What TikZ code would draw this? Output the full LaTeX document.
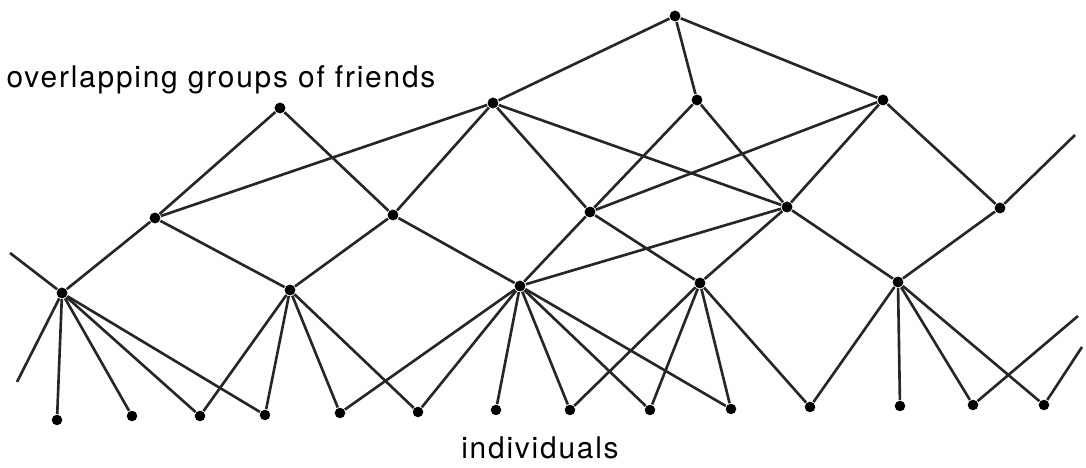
\documentclass[tikz,border=0pt]{standalone}
\usepackage{fontspec}
\setmainfont{TeX Gyre Heros}[LetterSpace=6]
\usetikzlibrary{positioning}
\tikzset{
  grp/.style={circle, fill=black, inner sep=0pt, minimum size=3.1pt},
  indiv/.style={grp, minimum size=3pt},
  tie/.style={line width=0.75pt, black!85},
  lbl/.style={font=\fontsize{8.5}{10}\selectfont, inner sep=0pt},
}

\begin{document}
\begin{tikzpicture}[x=0.1mm, y=-0.1mm]
    \useasboundingbox (0,0) rectangle (1086,468);
    % groups of friends
    \node[grp] (top) at (675,16) {};
    \node[grp] (a) at (280,108) {};
    \node[grp] (b) at (493,103) {};
    \node[grp] (c) at (697,100) {};
    \node[grp] (d) at (883,100) {};
    \node[grp] (e) at (155,218) {};
    \node[grp] (f) at (393,215) {};
    \node[grp] (g) at (590,212) {};
    \node[grp] (h) at (787,207) {};
    \node[grp] (i) at (1000,208) {};
    \node[grp] (j) at (62,293) {};
    \node[grp] (k) at (290,290) {};
    \node[grp] (l) at (520,286) {};
    \node[grp] (m) at (700,283) {};
    \node[grp] (n) at (898,282) {};
    % individuals
    \node[indiv] (p1) at (57,420) {};
    \node[indiv] (p2) at (132,416) {};
    \node[indiv] (p3) at (200,416) {};
    \node[indiv] (p4) at (265,415) {};
    \node[indiv] (p5) at (340,413) {};
    \node[indiv] (p6) at (418,412) {};
    \node[indiv] (p7) at (496,410) {};
    \node[indiv] (p8) at (570,410) {};
    \node[indiv] (p9) at (650,410) {};
    \node[indiv] (p10) at (731,409) {};
    \node[indiv] (p11) at (810,407) {};
    \node[indiv] (p12) at (900,406) {};
    \node[indiv] (p13) at (973,405) {};
    \node[indiv] (p14) at (1044,405) {};
    % loose ends at the margins
    \coordinate (w1) at (10,253);
    \coordinate (w2) at (17,382);
    \coordinate (o1) at (1075,135);
    \coordinate (o2) at (1078,316);
    \coordinate (o3) at (1082,347);

    \draw[tie] (top)--(b); \draw[tie] (top)--(c); \draw[tie] (top)--(d);
    \draw[tie] (a)--(e); \draw[tie] (a)--(f);
    \draw[tie] (b)--(e); \draw[tie] (b)--(f); \draw[tie] (b)--(g); \draw[tie] (b)--(h);
    \draw[tie] (c)--(g); \draw[tie] (c)--(h);
    \draw[tie] (d)--(g); \draw[tie] (d)--(h); \draw[tie] (d)--(i);
    \draw[tie] (e)--(j); \draw[tie] (e)--(k);
    \draw[tie] (f)--(k); \draw[tie] (f)--(l);
    \draw[tie] (g)--(l); \draw[tie] (g)--(m);
    \draw[tie] (h)--(l); \draw[tie] (h)--(m); \draw[tie] (h)--(n);
    \draw[tie] (i)--(n); \draw[tie] (i)--(o1);
    \draw[tie] (j)--(w1); \draw[tie] (j)--(w2);
    \draw[tie] (j)--(p1); \draw[tie] (j)--(p2); \draw[tie] (j)--(p3); \draw[tie] (j)--(p4);
    \draw[tie] (k)--(p3); \draw[tie] (k)--(p4); \draw[tie] (k)--(p5); \draw[tie] (k)--(p6);
    \draw[tie] (l)--(p5); \draw[tie] (l)--(p6); \draw[tie] (l)--(p7);
    \draw[tie] (l)--(p8); \draw[tie] (l)--(p9); \draw[tie] (l)--(p10);
    \draw[tie] (m)--(p8); \draw[tie] (m)--(p9); \draw[tie] (m)--(p10); \draw[tie] (m)--(p11);
    \draw[tie] (n)--(p11); \draw[tie] (n)--(p12); \draw[tie] (n)--(p13); \draw[tie] (n)--(p14);
    \draw[tie] (p13)--(o2); \draw[tie] (p14)--(o3);

    \node[lbl, anchor=west] (friends) at (6,80) {overlapping groups of friends};
    \node[lbl] (people) at (540,448) {individuals};
  \end{tikzpicture}
\end{document}
